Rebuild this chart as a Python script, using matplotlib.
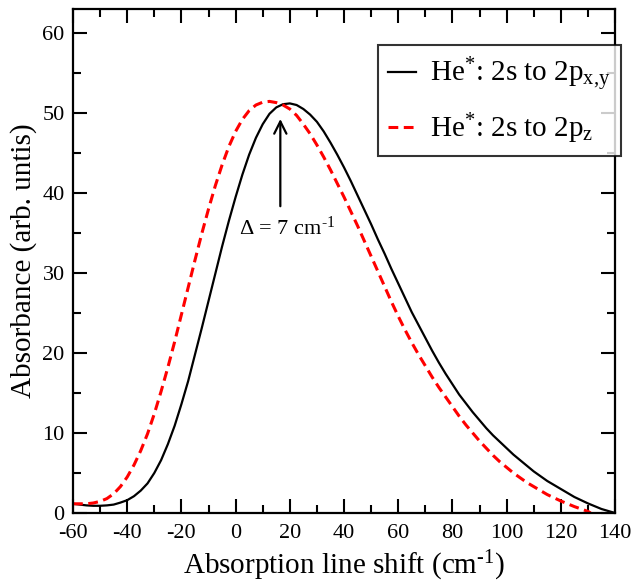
import matplotlib
matplotlib.use("Agg")
import matplotlib.pyplot as plt
from matplotlib.ticker import MultipleLocator

plt.rcParams['font.family'] = ['Liberation Serif', 'DejaVu Serif']
plt.rcParams['mathtext.fontset'] = 'custom'
plt.rcParams['mathtext.rm'] = 'Liberation Serif'
plt.rcParams['mathtext.it'] = 'Liberation Serif:italic'
plt.rcParams['mathtext.bf'] = 'Liberation Serif:bold'
plt.rcParams['axes.unicode_minus'] = False

# 2s -> 2p(x,y) absorption profile
shift_xy = [-60, -57.5, -55, -52.5, -50, -47.5, -45, -42.5, -40, -37.5, -35, -32.5,
            -30, -27.5, -25, -22.5, -20, -17.5, -15, -12.5, -10, -7.5, -5, -2.5,
            0, 2.5, 5, 7.5, 10, 12.5, 15, 17.5, 20, 22.5, 25, 27.5, 30, 32.5, 35,
            37.5, 40, 42.5, 45, 47.5, 50, 52.5, 55, 57.5, 60, 62.5, 65, 67.5, 70,
            72.5, 75, 77.5, 80, 82.5, 85, 87.5, 90, 92.5, 95, 97.5, 100, 102.5,
            105, 107.5, 110, 112.5, 115, 117.5, 120, 122.5, 125, 127.5, 130,
            132.5, 135, 137.5, 140]
abs_xy = [1.15, 1.05, 0.95, 0.9, 0.9, 0.95, 1.05, 1.3, 1.6, 2.1, 2.8, 3.7,
          5.0, 6.6, 8.6, 10.9, 13.6, 16.5, 19.8, 23.1, 26.5, 29.9, 33.3, 36.5,
          39.5, 42.3, 44.8, 46.9, 48.6, 49.9, 50.7, 51.1, 51.2, 51.0, 50.5, 49.8,
          48.9, 47.7, 46.3, 44.8, 43.2, 41.5, 39.7, 37.9, 36.1, 34.2, 32.4, 30.5,
          28.7, 26.9, 25.1, 23.5, 21.9, 20.3, 18.8, 17.4, 16.1, 14.8, 13.7, 12.6,
          11.6, 10.6, 9.7, 8.9, 8.1, 7.3, 6.6, 5.9, 5.2, 4.6, 4.0, 3.5, 3.0, 2.5,
          2.0, 1.6, 1.2, 0.85, 0.5, 0.25, 0.0]

# 2s -> 2p(z) absorption profile
shift_z = [-60, -57.5, -55, -52.5, -50, -47.5, -45, -42.5, -40, -37.5, -35, -32.5,
           -30, -27.5, -25, -22.5, -20, -17.5, -15, -12.5, -10, -7.5, -5, -2.5,
           0, 2.5, 5, 7.5, 10, 12.5, 15, 17.5, 20, 22.5, 25, 27.5, 30, 32.5, 35,
           37.5, 40, 42.5, 45, 47.5, 50, 52.5, 55, 57.5, 60, 62.5, 65, 67.5, 70,
           72.5, 75, 77.5, 80, 82.5, 85, 87.5, 90, 92.5, 95, 97.5, 100, 102.5,
           105, 107.5, 110, 112.5, 115, 117.5, 120, 122.5, 125, 127.5, 130, 131]
abs_z = [1.15, 1.15, 1.15, 1.25, 1.45, 1.8, 2.4, 3.3, 4.5, 6.0, 7.8, 9.9,
         12.4, 15.2, 18.2, 21.4, 24.8, 28.2, 31.6, 34.9, 38.0, 40.9, 43.5, 45.8,
         47.7, 49.2, 50.3, 51.0, 51.35, 51.45, 51.3, 51.0, 50.5, 49.7, 48.6,
         47.4, 46.0, 44.5, 42.9, 41.2, 39.5, 37.7, 35.9, 34.0, 32.1, 30.2, 28.3,
         26.4, 24.6, 22.9, 21.3, 19.8, 18.4, 17.0, 15.7, 14.5, 13.3, 12.1, 11.0,
         10.0, 9.0, 8.1, 7.2, 6.4, 5.7, 5.0, 4.4, 3.8, 3.3, 2.8, 2.3, 1.9, 1.5,
         1.15, 0.8, 0.5, 0.2, 0.0]

fig = plt.figure(figsize=(6.36, 5.85), dpi=100)
ax = fig.add_axes([0.1148, 0.1231, 0.8522, 0.8615])

ax.plot(shift_xy, abs_xy, color='black', lw=1.6,
        label=r'He$^{*}$: 2s to 2p$_{\mathrm{x{,}y}}$')
ax.plot(shift_z, abs_z, color='red', lw=2.2, dashes=(3.2, 1.8),
        label=r'He$^{*}$: 2s to 2p$_{\mathrm{z}}$')

# peak separation marker
ax.annotate('', xy=(16.5, 49.6), xytext=(16.5, 38.0),
            arrowprops=dict(arrowstyle='->', color='black', lw=1.6,
                            mutation_scale=22))
ax.text(19.0, 35.6, '$\\Delta$ = 7 cm$^{\\mathrm{\u20101}}$', ha='center',
        va='center', fontsize=16)

ax.set_xlim(-60, 140)
ax.set_ylim(0, 63)
ax.xaxis.set_major_locator(MultipleLocator(20))
ax.xaxis.set_minor_locator(MultipleLocator(10))
ax.yaxis.set_major_locator(MultipleLocator(10))
ax.yaxis.set_minor_locator(MultipleLocator(5))
ax.tick_params(which='both', direction='in', top=True, right=True, width=1.5,
               labelsize=16)
ax.tick_params(which='major', length=10)
ax.tick_params(which='minor', length=5.5)
ax.tick_params(axis='x', which='major', pad=8)
ax.tick_params(axis='y', which='major', pad=6)
for s in ax.spines.values():
    s.set_linewidth(1.6)

ax.set_xlabel('Absorption line shift (cm$^{\\mathrm{\u20101}}$)', fontsize=21,
              labelpad=4)
ax.set_ylabel('Absorbance (arb. untis)', fontsize=21, labelpad=4)

leg = ax.legend(loc='upper right', bbox_to_anchor=(1.011, 0.9286), fontsize=21,
                frameon=True, fancybox=False, edgecolor='black',
                handlelength=0.95, handletextpad=0.5, borderpad=0.35,
                labelspacing=0.6, borderaxespad=0)
leg.get_frame().set_linewidth(1.5)

fig.savefig('out.png', dpi=100)
